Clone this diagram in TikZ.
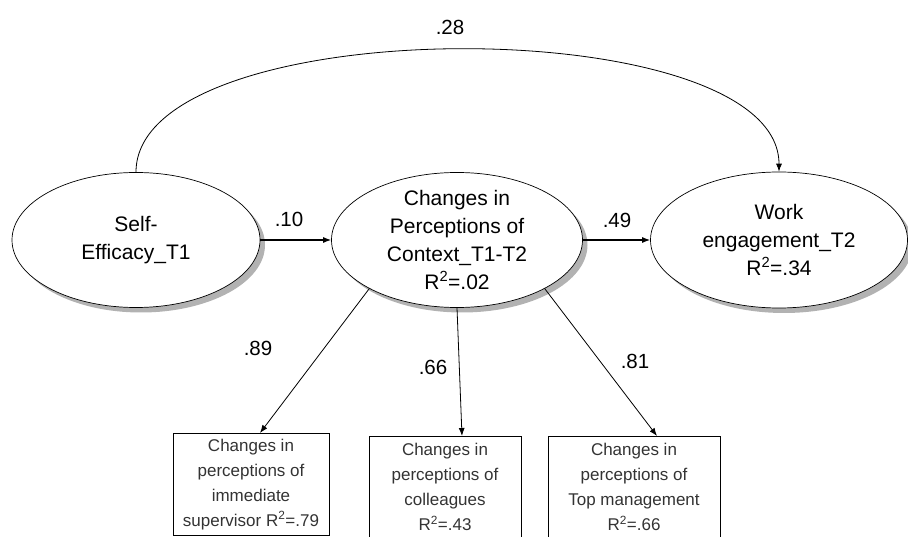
\documentclass[tikz,border=0pt]{standalone}
\usepackage{fontspec}
\setmainfont{Liberation Sans}
\usetikzlibrary{arrows.meta,shadows,shapes.geometric}

\begin{document}
\begin{tikzpicture}[x=1pt,y=-1pt,
    latent/.style={ellipse, draw=black, line width=0.7pt, fill=white, inner xsep=0pt, inner ysep=-14pt,
        align=center, font=\fontsize{21}{28}\selectfont,
        drop shadow={shadow xshift=5pt, shadow yshift=-5pt, fill=black!30, opacity=1}},
    indic/.style={rectangle, draw=black, line width=0.7pt, anchor=north, align=center, inner sep=0pt,
        minimum height=102pt, font=\fontsize{17}{25}\selectfont, text=black!80},
    coef/.style={font=\fontsize{20.5}{24}\selectfont},
    path/.style={-{Latex[length=8pt,width=6pt]}, line width=0.8pt},
    main/.style={-{Latex[length=8pt,width=6pt]}, line width=1.2pt}]
            \clip (0,0) rectangle (908,537);
            \node[latent, minimum width=248pt, minimum height=135pt] (se) at (136,240) {Self-\\Efficacy\_T1};
            \node[latent, minimum width=251pt, minimum height=135pt] (ce) at (457,240) {Changes in\\Perceptions of\\Context\_T1-T2\\R\textsuperscript{2}=.02};
            \node[latent, minimum width=257pt, minimum height=136pt] (we) at (779,240) {Work\\engagement\_T2\\R\textsuperscript{2}=.34};
            \node[indic, minimum width=156pt] (b1) at (251,433) {Changes in\\perceptions of\\immediate\\supervisor R\textsuperscript{2}=.79};
            \node[indic, minimum width=152pt] (b2) at (445,436) {Changes in\\perceptions of\\colleagues\\R\textsuperscript{2}=.43};
            \node[indic, minimum width=172pt] (b3) at (634,436) {Changes in\\perceptions of\\Top management\\R\textsuperscript{2}=.66};
            \draw[path] (se.north) .. controls +(0,-163) and +(0,-163) .. (we.north);
            \draw[main] (se.east) -- (ce.west);
            \draw[main] (ce.east) -- (we.west);
            \draw[path] (ce.209) -- ([xshift=9pt]b1.north);
            \draw[path] (ce.south) -- ([xshift=17pt]b2.north);
            \draw[path] (ce.331) -- ([xshift=23pt]b3.north);
            \node[coef] (l28) at (450,27) {.28};
            \node[coef] (l10) at (289,219) {.10};
            \node[coef] (l49) at (617,220) {.49};
            \node[coef] (l89) at (258,348) {.89};
            \node[coef] (l66) at (433,367) {.66};
            \node[coef] (l81) at (635,361) {.81};
        \end{tikzpicture}
\end{document}
